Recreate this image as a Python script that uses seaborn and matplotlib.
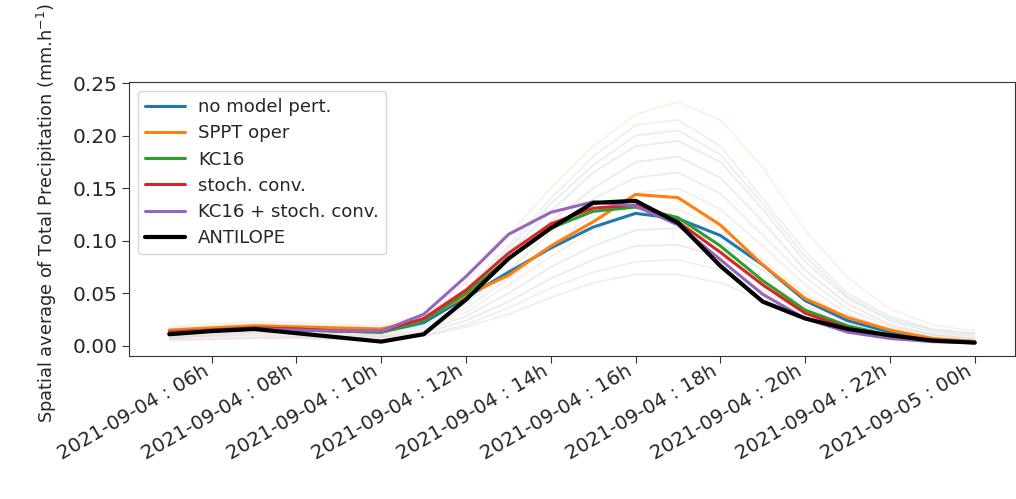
import matplotlib
matplotlib.use("Agg")
import matplotlib.pyplot as plt
import matplotlib.dates as mdates
import seaborn as sns
import pandas as pd
import numpy as np

# hourly times 2021-09-04 05h -> 2021-09-05 00h
times = pd.date_range("2021-09-04 05:00", periods=20, freq="h")

series_names = ["no model pert.", "SPPT oper", "KC16", "stoch. conv.",
                "KC16 + stoch. conv.", "ANTILOPE"]
series_colors = ["#1f77b4", "#ff7f0e", "#2ca02c", "#d62728", "#9467bd", "black"]

no_model_pert = [0.012, 0.014, 0.016, 0.015, 0.014, 0.013, 0.022, 0.046, 0.070, 0.093,
                 0.113, 0.126, 0.121, 0.105, 0.077, 0.043, 0.024, 0.013, 0.006, 0.004]
sppt_oper = [0.015, 0.017, 0.019, 0.018, 0.017, 0.016, 0.025, 0.048, 0.067, 0.095,
             0.118, 0.144, 0.141, 0.115, 0.077, 0.045, 0.027, 0.015, 0.007, 0.004]
kc16 = [0.013, 0.015, 0.017, 0.016, 0.014, 0.013, 0.024, 0.050, 0.083, 0.112,
        0.128, 0.132, 0.122, 0.095, 0.062, 0.034, 0.019, 0.010, 0.005, 0.003]
stoch_conv = [0.013, 0.015, 0.017, 0.016, 0.014, 0.014, 0.026, 0.053, 0.088, 0.116,
              0.131, 0.134, 0.118, 0.089, 0.058, 0.031, 0.017, 0.009, 0.005, 0.003]
kc16_stoch = [0.012, 0.014, 0.016, 0.015, 0.014, 0.014, 0.030, 0.066, 0.106, 0.127,
              0.137, 0.133, 0.115, 0.082, 0.049, 0.026, 0.013, 0.007, 0.004, 0.003]
antilope = [0.011, 0.014, 0.016, 0.012, 0.008, 0.004, 0.011, 0.044, 0.083, 0.112,
            0.136, 0.138, 0.117, 0.076, 0.042, 0.026, 0.016, 0.010, 0.005, 0.003]

# faint ensemble members
m01 = [0.018, 0.021, 0.023, 0.022, 0.020, 0.019, 0.030, 0.060, 0.105, 0.150,
       0.190, 0.220, 0.232, 0.215, 0.170, 0.110, 0.065, 0.035, 0.020, 0.014]
m02 = [0.016, 0.019, 0.021, 0.020, 0.018, 0.017, 0.028, 0.055, 0.095, 0.140,
       0.180, 0.210, 0.215, 0.190, 0.140, 0.090, 0.050, 0.028, 0.016, 0.012]
m03 = [0.014, 0.017, 0.019, 0.018, 0.016, 0.015, 0.025, 0.050, 0.088, 0.128,
       0.165, 0.190, 0.195, 0.175, 0.130, 0.080, 0.045, 0.024, 0.013, 0.009]
m04 = [0.012, 0.015, 0.017, 0.016, 0.014, 0.013, 0.022, 0.045, 0.080, 0.118,
       0.150, 0.175, 0.180, 0.160, 0.118, 0.072, 0.040, 0.020, 0.011, 0.007]
m05 = [0.011, 0.014, 0.016, 0.015, 0.013, 0.012, 0.020, 0.040, 0.072, 0.108,
       0.140, 0.160, 0.165, 0.145, 0.105, 0.065, 0.035, 0.018, 0.010, 0.006]
m06 = [0.010, 0.012, 0.014, 0.013, 0.012, 0.011, 0.018, 0.036, 0.064, 0.095,
       0.125, 0.145, 0.150, 0.130, 0.095, 0.058, 0.030, 0.016, 0.008, 0.005]
m07 = [0.009, 0.011, 0.013, 0.012, 0.011, 0.010, 0.016, 0.032, 0.058, 0.085,
       0.110, 0.128, 0.130, 0.112, 0.082, 0.050, 0.026, 0.013, 0.007, 0.004]
m08 = [0.008, 0.010, 0.012, 0.011, 0.010, 0.009, 0.014, 0.028, 0.050, 0.075,
       0.095, 0.110, 0.112, 0.098, 0.072, 0.044, 0.022, 0.011, 0.006, 0.003]
m09 = [0.007, 0.009, 0.010, 0.009, 0.008, 0.008, 0.012, 0.024, 0.042, 0.064,
       0.082, 0.095, 0.096, 0.085, 0.062, 0.038, 0.019, 0.009, 0.005, 0.003]
m10 = [0.006, 0.007, 0.008, 0.008, 0.007, 0.006, 0.010, 0.020, 0.036, 0.055,
       0.070, 0.080, 0.082, 0.072, 0.052, 0.032, 0.016, 0.008, 0.004, 0.002]
m11 = [0.005, 0.006, 0.007, 0.007, 0.006, 0.005, 0.009, 0.018, 0.030, 0.046,
       0.060, 0.068, 0.068, 0.060, 0.044, 0.027, 0.013, 0.007, 0.003, 0.002]
m12 = [0.015, 0.018, 0.020, 0.019, 0.017, 0.016, 0.026, 0.052, 0.092, 0.135,
       0.172, 0.200, 0.205, 0.182, 0.135, 0.085, 0.047, 0.026, 0.015, 0.011]
members = [m01, m02, m03, m04, m05, m06, m07, m08, m09, m10, m11, m12]
member_colors = ["#ff7f0e", "#9467bd", "#1f77b4", "#d62728", "#2ca02c", "grey",
                 "#ff7f0e", "#1f77b4", "#d62728", "grey", "#9467bd", "#2ca02c"]

sns.set_style("ticks")
plt.rcParams["font.family"] = ["DejaVu Sans"]

fig = plt.figure(figsize=(10.16, 4.99), dpi=100)
ax = fig.add_axes([0.127, 0.287, 0.872, 0.549])

for vals, col in zip(members, member_colors):
    sns.lineplot(x=times, y=vals, ax=ax, color=col, alpha=0.13, lw=1.2)

main = [no_model_pert, sppt_oper, kc16, stoch_conv, kc16_stoch, antilope]
for name, vals, col in zip(series_names, main, series_colors):
    lw = 3.0 if name == "ANTILOPE" else 2.2
    sns.lineplot(x=times, y=vals, ax=ax, color=col, lw=lw, label=name)

ax.set_ylim(-0.0095, 0.2512)
ax.set_yticks([0.0, 0.05, 0.10, 0.15, 0.20, 0.25])
ax.yaxis.set_major_formatter(matplotlib.ticker.FormatStrFormatter("%.2f"))
ax.xaxis.set_major_locator(mdates.HourLocator(byhour=[0, 6, 8, 10, 12, 14, 16, 18, 20, 22]))
ax.xaxis.set_major_formatter(mdates.DateFormatter("%Y-%m-%d : %Hh"))
ax.tick_params(axis="both", labelsize=14.5, length=5, direction="out", color="#333333")
ax.tick_params(axis="x", pad=-1, labelsize=14.2)
for lab in ax.get_xticklabels():
    lab.set_rotation(30)
    lab.set_ha("right")
for s in ax.spines.values():
    s.set_visible(True)
    s.set_color("#333333")
ax.set_xlabel("")
ax.set_ylabel("Spatial average of Total Precipitation (mm.h$^{-1}$)", fontsize=12.8)
ax.yaxis.set_label_coords(-0.079, 0.52)

ax.legend(loc="upper left", fontsize=13.1, frameon=True, handlelength=2.2,
          handletextpad=0.7, labelspacing=0.45)

fig.savefig("out.png", dpi=100)
